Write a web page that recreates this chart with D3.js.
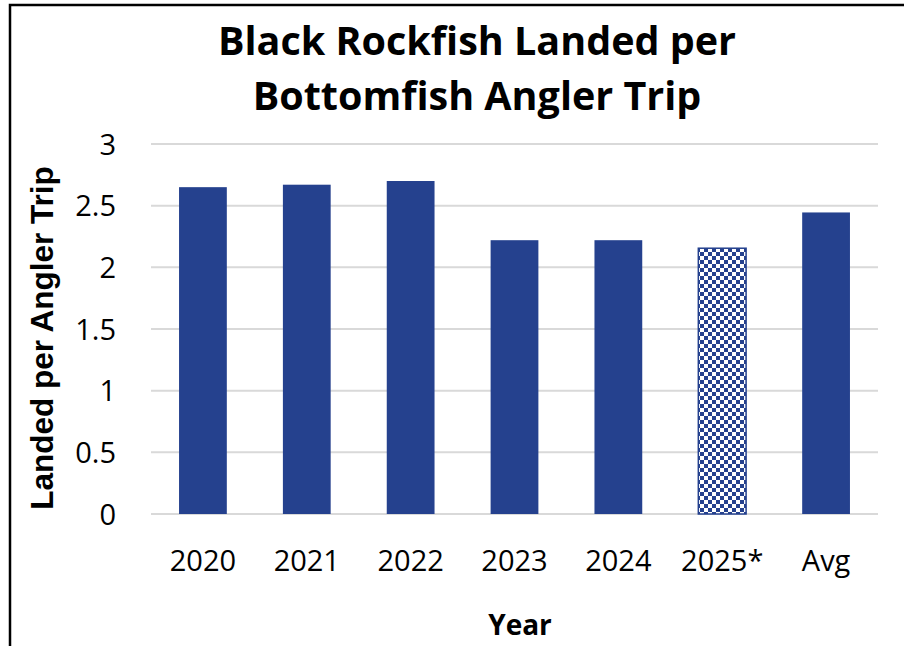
<!DOCTYPE html>
<html><head><meta charset="utf-8">
<script src="https://cdn.jsdelivr.net/npm/d3@7"></script>
<style>body{margin:0;background:#fff}svg{display:block}</style>
</head><body>
<svg id="c" width="904" height="646"></svg>
<script>
const categories = ["2020","2021","2022","2023","2024","2025*","Avg"];
const values = [2.65, 2.67, 2.70, 2.22, 2.22, 2.155, 2.445];
const yTicks = [0, 0.5, 1, 1.5, 2, 2.5, 3];
const tickLabels = ["0","0.5","1","1.5","2","2.5","3"];
const partial = ["2025*"];
const titleLines = ["Black Rockfish Landed per", "Bottomfish Angler Trip"];

const svg = d3.select("#c");
const blue = "#25418E";
const m = {left:151, right:878, top:144, bottom:514};

svg.append("rect").attr("x",10).attr("y",5).attr("width",1000).attr("height",1000)
  .attr("fill","#fff").attr("stroke","#000").attr("stroke-width",2.5);

const defs = svg.append("defs");
const pat = defs.append("pattern").attr("id","chk").attr("patternUnits","userSpaceOnUse")
  .attr("width",8).attr("height",8);
pat.append("rect").attr("width",8).attr("height",8).attr("fill","#fff");
pat.append("rect").attr("width",4).attr("height",4).attr("fill",blue);
pat.append("rect").attr("x",4).attr("y",4).attr("width",4).attr("height",4).attr("fill",blue);

const x = d3.scaleBand().domain(categories).range([m.left,m.right]).paddingInner(0.54).paddingOuter(0.27);
const y = d3.scaleLinear().domain([0,3]).range([m.bottom,m.top]);

svg.append("g").selectAll("line").data(yTicks).join("line")
  .attr("x1",m.left).attr("x2",m.right)
  .attr("y1",d=>y(d)).attr("y2",d=>y(d))
  .attr("stroke","#d9d9d9").attr("stroke-width",2);

svg.append("g").selectAll("rect").data(categories).join("rect")
  .attr("x",d=>x(d)).attr("width",x.bandwidth())
  .attr("y",(d,i)=>y(values[i])).attr("height",(d,i)=>y(0)-y(values[i]))
  .attr("fill",d=>partial.includes(d)?"url(#chk)":blue)
  .attr("stroke",d=>partial.includes(d)?blue:"none").attr("stroke-width",1.5);

const yAxis = d3.axisLeft(y).tickValues(yTicks).tickFormat((d,i)=>tickLabels[i]).tickSize(0).tickPadding(0);
const ga = svg.append("g").attr("transform","translate(116,0)").call(yAxis);
ga.select(".domain").remove();
ga.selectAll("text").attr("font-family","'Open Sans'").attr("font-size",29).attr("fill","#000").attr("dy","0.35em");

const xAxis = d3.axisBottom(x).tickSize(0).tickPadding(0);
const gx = svg.append("g").attr("transform","translate(0,571)").call(xAxis);
gx.select(".domain").remove();
gx.selectAll("text").attr("font-family","'Open Sans'").attr("font-size",29).attr("fill","#000").attr("dy",0);

svg.append("g").selectAll("text").data(titleLines).join("text")
  .attr("x",477).attr("y",(d,i)=>55+i*55).attr("text-anchor","middle")
  .attr("font-family","'Open Sans'").attr("font-weight","bold").attr("font-size",39.5).attr("fill","#000")
  .text(d=>d);

svg.append("text").attr("transform","translate(53,338) rotate(-90)").attr("text-anchor","middle")
  .attr("font-family","'Liberation Sans'").attr("font-weight","bold").attr("font-size",31.5).attr("fill","#000")
  .text("Landed per Angler Trip");

svg.append("text").attr("x",520).attr("y",635).attr("text-anchor","middle")
  .attr("font-family","'Open Sans'").attr("font-weight","bold").attr("font-size",28).attr("fill","#000")
  .text("Year");
</script>
</body></html>
